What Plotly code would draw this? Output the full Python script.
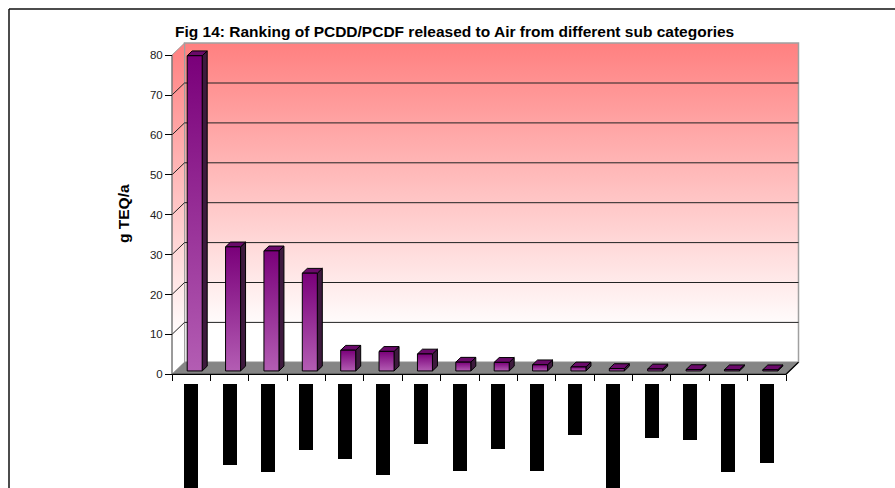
import plotly.graph_objects as go

# ---------------- data ----------------
categories = list(range(1, 17))  # 16 sub categories (labels unreadable in source)
values = [79.0, 31.1, 30.1, 24.5, 5.2, 4.9, 4.25, 2.2, 2.15, 1.55, 1.0, 0.6, 0.5, 0.35, 0.3, 0.3]
# category labels appear only as black blocks of differing length in the source image
label_block_lengths = [32.0, 20.2, 22.0, 16.5, 18.7, 22.7, 15.0, 21.7, 16.2, 21.7, 12.7, 32.0, 13.5, 14.0, 22.0, 19.7]
y_ticks = [0, 10, 20, 30, 40, 50, 60, 70, 80]
title_text = "Fig 14: Ranking of PCDD/PCDF released to Air from different sub categories"
y_title = "g TEQ/a"

# ---------------- geometry / style ----------------
W, H = 895, 488
PX_X = 38.375          # px per category
PX_Y = 3.99            # px per value unit
X0_PX, Y0_PX = 172, 374.3
n = len(values)
xr = [-0.5 - X0_PX / PX_X, -0.5 + (W - X0_PX) / PX_X]
yr = [-(H - Y0_PX) / PX_Y, Y0_PX / PX_Y]
DX, DY = 12.5 / PX_X, 12.0 / PX_Y        # full depth offset
YMAX = 80
xl, xrr = -0.5, n - 0.5

wall_grad = dict(type="vertical", colorscale=[[0, "#FFFFFF"], [0.1, "#FFFFFF"], [1, "#FF8080"]])

fig = go.Figure()

def poly(xs, ys, **kw):
    fig.add_trace(go.Scatter(x=xs + [xs[0]], y=ys + [ys[0]], mode="lines", fill="toself",
                             hoverinfo="skip", showlegend=False, **kw))

def seg(xs, ys, color, width=1):
    fig.add_trace(go.Scatter(x=xs, y=ys, mode="lines", line=dict(color=color, width=width),
                             hoverinfo="skip", showlegend=False))

# back wall
poly([xl + DX, xrr + DX, xrr + DX, xl + DX], [DY, DY, YMAX + DY, YMAX + DY],
     fillgradient=dict(wall_grad, start=DY, stop=YMAX + DY), line=dict(color="#A0A0A0", width=1.5))
# side wall
poly([xl, xl + DX, xl + DX, xl], [0, DY, YMAX + DY, YMAX],
     fillgradient=dict(wall_grad, start=0, stop=YMAX + DY), line=dict(color="#A0A0A0", width=1))
# gridlines on back wall and side wall
for v in y_ticks[1:-1]:
    seg([xl, xl + DX, xrr + DX], [v, v + DY, v + DY], "#222222", 1)
# floor
poly([xl, xrr, xrr + DX, xl + DX], [0, 0, DY, DY], fillcolor="#858585", line=dict(color="#858585", width=0.5))
seg([xl, xrr, xrr + DX], [0, 0, DY], "#000000", 1.2)
# front y axis line
seg([xl, xl], [0, YMAX], "#666666", 1)

# 3D bars
bw = 15 / PX_X
f0 = 0.28
bdx, bdy = 0.40 * DX, 0.40 * DY
ox, oy = f0 * DX, f0 * DY
for i, v in enumerate(values):
    c = i + ox
    L, R = c - bw / 2, c + bw / 2
    b, t = oy, oy + v
    # side face
    poly([R, R + bdx, R + bdx, R], [b, b + bdy, t + bdy, t], fillcolor="#3E1A3E",
         line=dict(color="#000000", width=1))
    # top face
    poly([L, R, R + bdx, L + bdx], [t, t, t + bdy, t + bdy], fillcolor="#6A0A6A",
         line=dict(color="#000000", width=1))
    # front face
    poly([L, R, R, L], [b, b, t, t],
         fillgradient=dict(type="vertical", colorscale=[[0, "#B35DB3"], [1, "#7A007A"]], start=b, stop=t),
         line=dict(color="#000000", width=1))

# category label blocks (unreadable labels rendered as black blocks)
lb_base = -(384 - Y0_PX) / PX_Y
fig.add_trace(go.Bar(x=[i for i in range(n)], y=[-l for l in label_block_lengths], base=lb_base,
                     width=14 / PX_X, marker=dict(color="#000000", line=dict(width=0)),
                     hoverinfo="skip", showlegend=False))

fig.update_layout(
    width=W, height=H, margin=dict(l=0, r=0, t=0, b=0, pad=0),
    paper_bgcolor="white", plot_bgcolor="rgba(0,0,0,0)",
    font=dict(family="Liberation Sans, Arial, sans-serif", color="#000000"),
    xaxis=dict(range=xr, domain=[0, 1], anchor="free", position=(H - Y0_PX) / H,
               tickmode="array", tickvals=[k - 0.5 for k in range(n + 1)],
               ticks="outside", ticklen=6, tickcolor="#000000", tickwidth=1,
               showticklabels=False, showgrid=False, zeroline=False, showline=False, fixedrange=True),
    yaxis=dict(range=yr, domain=[0, 1], anchor="free", position=X0_PX / W,
               tickmode="array", tickvals=y_ticks, ticktext=[str(v) for v in y_ticks],
               ticks="outside", ticklen=7, tickcolor="#000000", tickwidth=1,
               tickfont=dict(size=11.5, family="Liberation Sans, Arial, sans-serif", color="#222222"),
               showgrid=False, zeroline=False, showline=False, fixedrange=True),
    bargap=0,
    annotations=[
        dict(text="<b>" + title_text + "</b>", xref="paper", yref="paper", x=455 / W, y=1 - 32 / H,
             xanchor="center", yanchor="middle", showarrow=False,
             font=dict(size=15.5, family="Liberation Sans, Arial, sans-serif")),
        dict(text="<b>" + y_title + "</b>", xref="paper", yref="paper", x=123 / W, y=1 - 214 / H,
             xanchor="center", yanchor="middle", showarrow=False, textangle=-90,
             font=dict(size=15.5, family="Liberation Sans, Arial, sans-serif")),
    ],
    shapes=[
        dict(type="line", xref="paper", yref="paper", x0=9 / W, x1=1, y0=1 - 9 / H, y1=1 - 9 / H,
             line=dict(color="#111111", width=1.5)),
        dict(type="line", xref="paper", yref="paper", x0=9 / W, x1=9 / W, y0=0, y1=1 - 9 / H,
             line=dict(color="#111111", width=1.5)),
    ],
)

fig.write_html("out.html")
